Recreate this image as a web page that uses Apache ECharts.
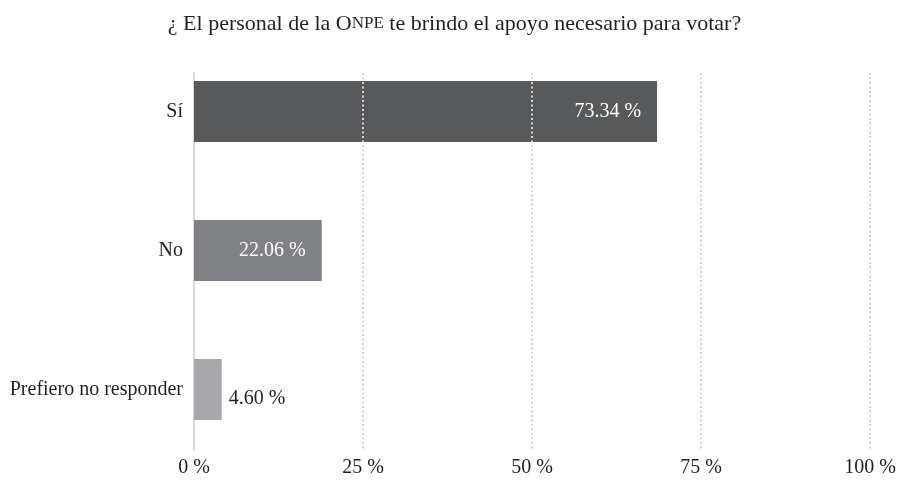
<!DOCTYPE html>
<html>
<head>
<meta charset="utf-8">
<script src="https://cdn.jsdelivr.net/npm/echarts@6/dist/echarts.min.js"></script>
<style>html,body{margin:0;padding:0;background:#fff}#c{width:909px;height:486px}</style>
</head>
<body>
<div id="c"></div>
<script>
const categories = ['Sí', 'No', 'Prefiero no responder'];
const barValues = [68.5, 18.9, 4.1];
const valueLabels = ['73.34 %', '22.06 %', '4.60 %'];
const barColors = ['#58595b', '#808184', '#a7a9ac'];
const tickValues = [0, 25, 50, 75, 100];

const FONT = 'Liberation Serif';
const chart = echarts.init(document.getElementById('c'), null, {renderer: 'canvas'});

const data = barValues.map((v, i) => {
  const inside = i < 2;
  return {
    value: v,
    itemStyle: {color: barColors[i]},
    label: inside ? {
      show: true, position: 'insideRight', distance: 16,
      formatter: valueLabels[i], color: '#ffffff',
      fontFamily: FONT, fontSize: 20
    } : {
      show: true, position: 'right', distance: 7, offset: [0, 9],
      formatter: valueLabels[i], color: '#231f20',
      fontFamily: FONT, fontSize: 20
    }
  };
});

chart.setOption({
  animation: false,
  backgroundColor: '#ffffff',
  title: {
    text: '¿ El personal de la O{sc|NPE} te brindo el apoyo necesario para votar?',
    left: 'center', top: 8,
    textStyle: {
      fontFamily: FONT, fontSize: 22, fontWeight: 'normal', color: '#231f20',
      rich: {sc: {fontFamily: FONT, fontSize: 17, color: '#231f20'}}
    }
  },
  grid: [
    {left: 194, right: 39, top: 73, bottom: 36},
    {left: 194, right: 39, top: 42, bottom: 27}
  ],
  xAxis: [
    {
      gridIndex: 0, type: 'value', min: tickValues[0], max: tickValues[tickValues.length - 1],
      interval: 25, z: 10,
      axisLine: {show: false}, axisTick: {show: false},
      splitLine: {show: true, showMinLine: false,
        lineStyle: {color: '#d4d4d4', width: 2, type: [2, 2.5]}},
      axisLabel: {formatter: '{value} %', fontFamily: FONT, fontSize: 20,
        color: '#231f20', margin: 8}
    },
    {gridIndex: 1, type: 'value', min: 0, max: 100, show: false}
  ],
  yAxis: [
    {
      gridIndex: 0, type: 'value', min: 0, max: 1,
      axisLine: {show: true, lineStyle: {color: '#d9d9d9', width: 2}},
      axisTick: {show: false}, axisLabel: {show: false}, splitLine: {show: false}
    },
    {
      gridIndex: 1, type: 'category', data: categories, inverse: true,
      axisLine: {show: false}, axisTick: {show: false},
      axisLabel: {fontFamily: FONT, fontSize: 20, color: '#231f20', margin: 11}
    }
  ],
  series: [{
    type: 'bar', xAxisIndex: 1, yAxisIndex: 1,
    barWidth: 61, data: data
  }]
});
</script>
</body>
</html>
